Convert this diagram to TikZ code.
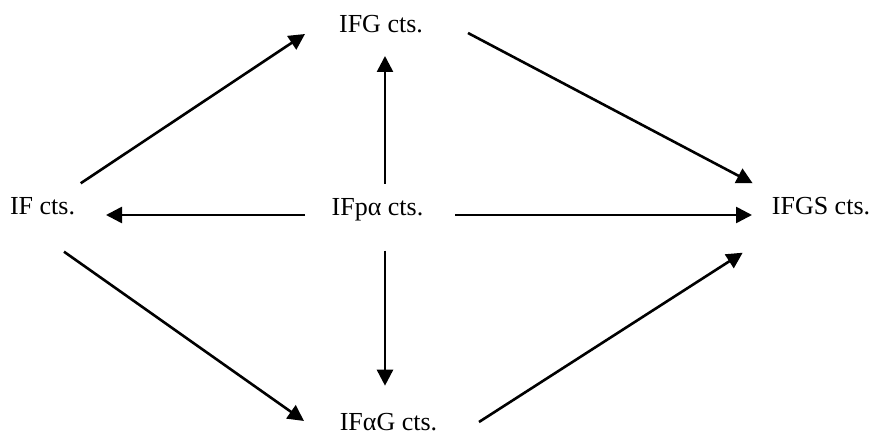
\documentclass[tikz,border=0pt]{standalone}
\usepackage{fontspec}
\setmainfont{Liberation Serif}
\usetikzlibrary{arrows.meta}

\begin{document}
\begin{tikzpicture}[x=1pt,y=-1pt,
	lbl/.style={anchor=base,inner sep=0pt,font=\fontsize{26}{30}\selectfont},
	impl/.style={line width=2.6pt,-{Triangle[length=16pt,width=16pt]}}]
			\useasboundingbox (0,0) rectangle (873,435);
			\node[lbl] (IFG) at (381,33) {IFG cts.};
			\node[lbl] (IF) at (42.5,215) {IF cts.};
			\node[lbl] (IFpa) at (377.5,216) {IFpα cts.};
			\node[lbl] (IFGS) at (821,215) {IFGS cts.};
			\node[lbl] (IFaG) at (388.5,431) {IFαG cts.};
			\draw[impl] ([shift={(38.2,-31.7)}]IF.base) -- ([shift={(-76,1)}]IFG.base);
			\draw[impl] ([shift={(87,0)}]IFG.base) -- ([shift={(-68.3,-31.7)}]IFGS.base);
			\draw[impl] ([shift={(21.5,36.7)}]IF.base) -- ([shift={(-84.5,-10)}]IFaG.base);
			\draw[impl] ([shift={(90.5,-9)}]IFaG.base) -- ([shift={(-78.3,37.7)}]IFGS.base);
			\draw[impl] ([shift={(7.5,-32)}]IFpa.base) -- ([shift={(4,23)}]IFG.base);
			\draw[impl] ([shift={(7.5,34.7)}]IFpa.base) -- ([shift={(-3.5,-45.3)}]IFaG.base);
			\draw[impl] ([shift={(-72.5,-1)}]IFpa.base) -- ([shift={(63.5,0)}]IF.base);
			\draw[impl] ([shift={(77.5,-1)}]IFpa.base) -- ([shift={(-69,0)}]IFGS.base);
\end{tikzpicture}
\end{document}
